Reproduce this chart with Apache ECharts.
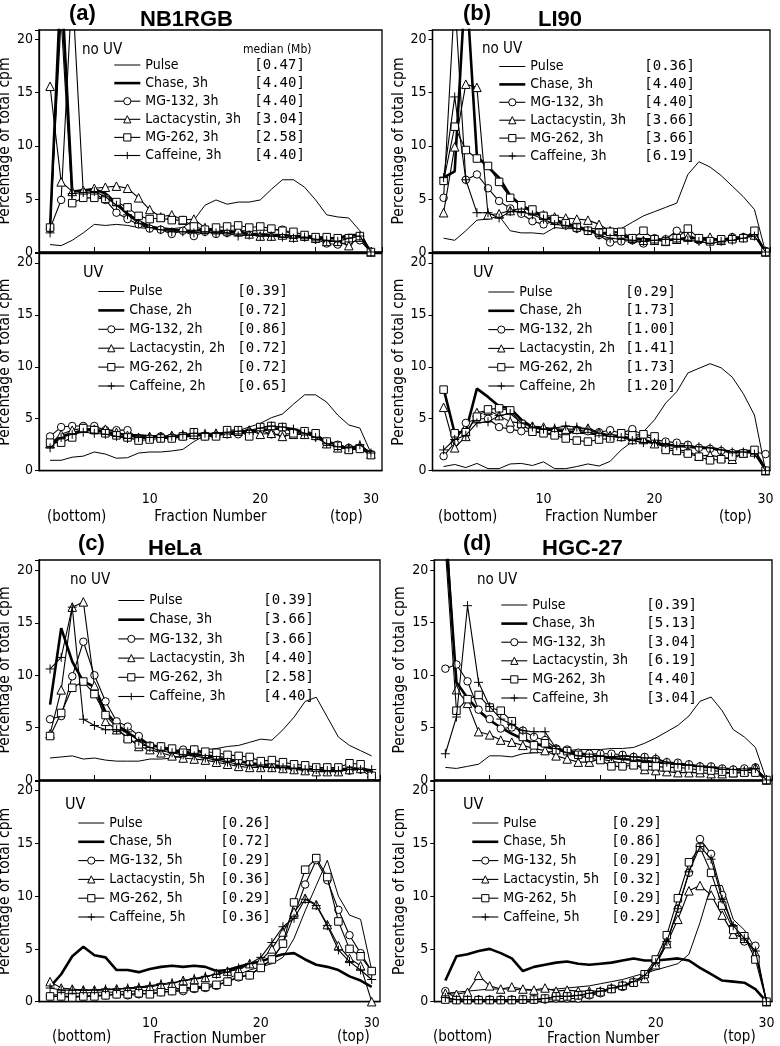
<!DOCTYPE html>
<html><head><meta charset="utf-8">
<script src="https://cdn.jsdelivr.net/npm/echarts@6/dist/echarts.min.js"></script>
<style>html,body{margin:0;padding:0;background:#fff}#c{width:780px;height:1046px}</style>
</head><body><div id="c"></div><script>
// ---------- DATA ----------
const fractions = [1,2,3,4,5,6,7,8,9,10,11,12,13,14,15,16,17,18,19,20,21,22,23,24,25,26,27,28,29,30];

const names3h = ['Pulse','Chase, 3h','MG-132, 3h','Lactacystin, 3h','MG-262, 3h','Caffeine, 3h'];
const names2h = ['Pulse','Chase, 2h','MG-132, 2h','Lactacystin, 2h','MG-262, 2h','Caffeine, 2h'];
const names5h = ['Pulse','Chase, 5h','MG-132, 5h','Lactacystin, 5h','MG-262, 5h','Caffeine, 5h'];

const aTopMedians = ['[0.47]','[4.40]','[4.40]','[3.04]','[2.58]','[4.40]'];
const aBotMedians = ['[0.39]','[0.72]','[0.86]','[0.72]','[0.72]','[0.65]'];
const bTopMedians = ['[0.36]','[4.40]','[4.40]','[3.66]','[3.66]','[6.19]'];
const bBotMedians = ['[0.29]','[1.73]','[1.00]','[1.41]','[1.73]','[1.20]'];
const cTopMedians = ['[0.39]','[3.66]','[3.66]','[4.40]','[2.58]','[4.40]'];
const cBotMedians = ['[0.26]','[0.72]','[0.29]','[0.36]','[0.29]','[0.36]'];
const dTopMedians = ['[0.39]','[5.13]','[3.04]','[6.19]','[4.40]','[3.04]'];
const dBotMedians = ['[0.29]','[0.86]','[0.29]','[0.32]','[0.29]','[0.29]'];

// (a) NB1RGB, no UV
const aTopPulse = [0.7,0.6,1.1,1.8,2.6,2.5,2.6,2.5,2.3,2.2,2.3,2.2,2.3,3.0,4.4,4.9,4.5,4.7,4.7,4.9,5.9,6.8,6.8,6.1,4.9,3.5,3.3,3.2,2.0,0];
const aTopChase = [2.3,26,5.7,5.8,5.9,5.5,4.6,3.6,2.9,2.4,2.2,2.1,2.0,2.0,2.1,2.0,1.9,1.8,1.7,1.7,1.6,1.6,1.5,1.5,1.4,1.3,1.3,1.6,1.6,0];
const aTopMG132 = [2.2,4.9,25,5.6,5.5,4.9,3.7,3.1,2.6,2.2,2.1,1.7,2.0,1.5,1.9,1.7,1.8,2.0,2.0,2.0,2.1,2.1,1.6,1.4,1.2,0.8,0.7,0.9,1.1,0];
const aTopLact  = [15.6,6.6,5.7,5.8,6.0,6.1,6.2,6.0,5.1,4.0,3.3,3.5,3.0,3.1,2.3,2.1,2.0,2.1,1.7,1.5,1.5,1.6,1.4,1.5,1.3,1.0,1.0,0.6,1.4,0];
const aTopMG262 = [2.3,22,4.6,5.1,5.1,5.0,4.7,4.2,3.4,3.1,3.2,3.0,3.0,2.4,2.1,2.3,2.4,2.5,2.3,2.4,2.2,2.0,1.9,1.6,1.4,1.4,1.3,1.3,1.5,0];
const aTopCaff  = [1.8,24,5.5,5.6,5.7,5.2,4.4,3.5,2.7,2.3,2.1,1.9,1.9,1.8,1.9,1.8,1.8,1.5,1.6,1.5,1.5,1.4,1.3,1.4,1.2,1.1,1.0,1.3,1.5,0];
// (a) NB1RGB, UV
const aBotPulse = [1.0,1.0,1.3,1.4,1.8,1.6,1.2,1.25,1.7,1.8,1.8,1.9,2.05,2.8,3.4,3.6,3.4,3.85,4.2,4.55,5.1,5.45,6.4,7.3,7.3,6.6,5.35,4.4,4.1,1.7];
const aBotChase = [2.5,3.3,3.6,3.9,3.9,3.7,3.6,3.4,3.4,3.3,3.3,3.2,3.3,3.4,3.5,3.5,3.6,3.7,3.8,3.9,4.0,4.1,4.0,3.7,3.4,2.8,2.5,2.1,2.3,1.7];
const aBotMG132 = [3.3,4.2,4.3,4.3,4.3,3.9,3.9,3.9,3.1,3.1,3.3,3.2,3.3,3.4,3.3,3.4,3.5,3.5,3.7,3.9,3.5,3.5,3.6,3.6,3.3,2.8,2.5,2.2,2.2,1.6];
const aBotLact  = [2.6,3.5,3.9,4.1,4.0,4.0,3.7,3.4,3.2,3.3,3.3,3.4,3.4,3.5,3.5,3.6,3.6,3.8,3.9,3.5,3.6,3.3,3.5,3.5,3.4,2.6,2.2,2.1,2.4,1.6];
const aBotMG262 = [2.7,2.7,3.2,4.1,3.9,3.6,3.4,3.2,2.9,3.0,3.1,3.1,3.3,3.7,3.3,3.3,3.9,3.9,3.3,4.2,4.3,4.2,3.6,3.8,3.6,2.8,2.4,2.0,2.1,1.5];
const aBotCaff  = [2.2,3.2,3.5,3.7,3.6,3.5,3.3,3.1,3.2,3.2,3.2,3.3,3.5,3.6,3.6,3.6,3.7,3.8,3.9,4.1,4.3,4.2,4.0,3.6,3.2,2.6,2.3,2.2,2.5,1.7];
// (b) LI90, no UV
const bTopPulse = [1.3,1.1,2.0,3.0,3.1,3.4,2.0,1.8,1.8,1.7,2.3,2.2,2.2,2.2,2.2,2.2,2.2,2.8,3.4,3.8,4.2,4.6,7.3,8.5,8.0,7.2,6.2,5.2,4.0,0];
const bTopChase = [7.0,7.6,26,9.0,8.0,7.0,5.3,4.4,3.8,3.3,3.0,2.7,2.4,2.1,1.8,1.7,1.5,1.3,1.2,1.2,1.1,1.2,1.3,1.3,1.2,1.2,1.2,1.4,1.7,0];
const bTopMG132 = [5.1,24,6.8,7.3,6.0,4.8,4.1,3.6,2.9,2.6,2.9,2.5,2.2,2.0,1.6,0.9,1.0,1.1,0.8,1.3,1.2,2.0,1.7,1.1,1.1,1.2,1.4,1.4,1.7,0.1];
const bTopLact  = [3.7,9.9,15.8,15.5,3.5,3.6,3.9,4.1,3.9,3.5,3.3,3.2,3.1,3.0,2.6,2.0,1.7,1.3,1.1,1.1,1.0,1.2,1.4,1.3,1.4,1.1,1.4,1.4,1.6,0];
const bTopMG262 = [6.7,11.8,9.6,8.8,8.1,6.6,5.1,4.4,4.0,3.4,3.1,2.7,2.3,2.0,1.8,1.9,1.9,1.3,2.0,1.2,1.0,1.3,2.2,1.3,1.0,1.2,1.2,1.3,2.0,0];
const bTopCaff  = [7.0,14.6,6.8,3.7,3.7,3.2,3.8,3.8,3.5,3.1,2.6,2.5,2.2,2.0,1.6,1.3,1.2,1.1,1.0,1.1,1.2,1.2,1.1,1.0,0.8,1.0,1.1,1.3,1.5,0];
// (b) LI90, UV
const bBotPulse = [0.4,0.6,0.3,0.7,0.2,0.2,0.65,0.7,0.5,0.85,0.2,0.2,0.4,0.65,0.45,0.9,2.0,2.8,3.75,4.9,6.5,7.6,9.4,9.85,10.3,9.9,9.0,7.4,5.35,0];
const bBotChase = [7.9,3.6,3.8,7.9,7.1,6.2,6.0,4.9,4.2,4.0,3.9,3.8,3.7,3.6,3.5,3.4,3.3,3.1,3.0,2.6,2.5,2.4,2.3,2.2,2.2,2.0,1.8,1.9,1.9,0.2];
const bBotMG132 = [1.4,2.7,4.6,5.0,5.0,4.2,4.0,3.8,3.8,3.7,3.5,3.4,3.9,3.8,3.7,3.9,3.6,4.0,3.4,3.0,2.8,2.7,2.5,2.2,2.1,1.9,1.7,1.7,1.8,1.6];
const bBotLact  = [6.1,2.2,3.3,5.6,5.8,5.3,4.7,4.6,4.3,4.2,4.0,4.0,4.0,4.1,3.7,3.4,3.3,3.0,3.0,2.6,2.3,2.0,1.9,1.4,1.5,1.3,1.1,1.7,1.8,0];
const bBotMG262 = [7.8,3.6,3.7,5.2,5.9,6.0,5.8,4.5,3.75,3.6,3.4,3.1,2.9,2.8,3.0,3.1,3.6,3.4,3.5,3.3,2.0,1.9,1.65,1.35,1.0,1.1,1.35,1.65,2.0,0];
const bBotCaff  = [2.0,3.0,3.4,4.6,4.7,5.3,5.5,4.6,4.2,4.0,4.1,4.3,4.2,4.0,3.6,3.3,3.2,2.9,2.7,2.7,2.6,2.4,2.4,2.3,2.2,2.0,1.8,1.8,1.6,0];
// (c) HeLa, no UV
const cTopPulse = [2.1,2.2,2.3,2.0,2.1,1.9,1.8,1.8,1.8,2.0,2.0,2.1,2.3,2.5,2.9,3.0,3.2,3.3,3.6,3.9,3.8,4.8,6.0,7.5,7.9,6.0,4.1,3.3,2.8,2.3];
const cTopChase = [7.2,14.5,11.3,9.4,8.9,6.5,5.3,4.5,3.9,3.4,3.1,2.8,2.6,2.5,2.3,2.1,1.9,1.8,1.6,1.5,1.4,1.3,1.2,1.1,1.0,1.0,1.0,1.1,1.1,0.9];
const cTopMG132 = [5.8,6.1,9.9,13.2,10.0,7.5,5.6,5.1,4.2,3.3,3.2,2.8,2.9,2.9,2.4,2.3,2.1,1.8,1.6,1.4,1.3,1.2,1.1,1.0,1.0,0.9,0.9,0.9,1.0,0.3];
const cTopLact  = [4.4,8.6,16.5,17.0,9.0,5.6,4.8,4.1,3.2,2.9,2.6,2.3,2.1,2.0,1.9,1.7,1.5,1.3,1.2,1.2,1.2,1.1,1.0,0.9,0.8,0.8,0.8,1.0,1.1,0.6];
const cTopMG262 = [4.2,6.4,8.8,9.4,8.2,6.2,5.0,3.9,3.4,3.2,3.2,3.0,2.6,2.9,2.7,2.6,2.4,2.3,2.2,1.8,1.9,1.7,1.5,1.4,1.2,1.2,1.2,1.6,1.5,0.4];
const cTopCaff  = [10.6,11.7,16.5,5.8,5.2,4.8,4.8,4.6,3.7,3.1,2.8,2.6,2.4,2.3,2.1,1.9,1.7,1.5,1.4,1.3,1.2,1.2,1.1,1.0,1.0,0.9,0.9,1.0,1.0,1.0];
// (c) HeLa, UV
const cBotPulse = [0.6,0.7,0.8,0.8,0.9,0.9,0.9,1.0,1.0,1.1,1.1,1.2,1.3,1.4,1.5,1.8,2.2,2.6,3.0,3.3,3.6,4.2,6.0,8.6,11.0,13.4,10.0,8.2,7.8,3.0];
const cBotChase = [1.4,2.6,4.3,5.2,4.4,4.2,3.0,3.0,2.8,3.1,3.3,3.4,3.3,3.4,3.3,2.9,3.0,3.3,3.6,3.8,4.2,4.5,4.6,4.0,3.5,3.3,3.0,2.4,2.0,1.4];
const cBotMG132 = [0.5,0.5,0.5,0.5,0.6,0.6,0.7,0.6,0.7,0.8,0.9,1.0,1.0,1.2,1.3,1.5,1.9,2.3,2.5,3.3,4.0,5.5,8.2,11.1,13.4,11.5,8.7,6.3,4.6,2.9];
const cBotLact  = [1.9,1.3,1.2,1.1,1.1,1.1,1.2,1.2,1.3,1.4,1.6,1.7,2.0,2.1,2.3,2.7,2.9,3.0,3.6,3.9,5.0,6.6,8.5,9.8,9.2,7.3,5.3,4.1,3.4,0];
const cBotMG262 = [0.5,0.5,0.4,0.5,0.5,0.6,0.7,0.7,0.8,0.7,0.9,1.0,1.2,1.3,1.4,1.6,1.9,2.4,2.5,3.2,4.0,5.5,9.4,12.5,13.6,11.8,7.6,5.0,4.3,2.9];
const cBotCaff  = [1.3,1.1,1.1,1.1,1.1,1.2,1.2,1.3,1.4,1.5,1.7,1.8,2.0,2.2,2.4,2.6,2.8,3.2,3.6,4.2,5.6,7.1,7.9,9.7,9.1,7.2,4.9,3.8,3.0,2.1];
// (d) HGC-27, no UV
const dTopPulse = [1.2,1.1,1.3,1.5,2.3,2.3,2.2,2.5,2.6,2.6,2.8,2.8,2.9,2.9,2.9,3.0,3.0,3.1,3.5,4.0,4.6,5.2,6.1,7.5,7.9,6.6,4.8,4.1,3.1,0];
const dTopChase = [24,9.3,7.8,6.6,5.7,5.0,4.4,3.9,3.5,3.2,2.9,2.7,2.5,2.4,2.2,2.1,2.0,1.9,1.8,1.7,1.6,1.5,1.4,1.3,1.2,1.1,1.0,1.0,1.0,0];
const dTopMG132 = [10.6,11.0,9.4,6.7,5.8,4.9,5.0,4.7,4.1,3.8,3.0,2.9,2.6,2.5,2.5,2.5,2.4,2.2,2.2,2.0,1.7,1.65,1.5,1.3,1.3,1.1,1.0,1.1,1.2,0];
const dTopLact  = [26,8.6,7.3,4.6,4.3,3.8,3.6,3.3,3.0,2.8,2.3,2.0,1.7,1.7,2.0,1.8,1.6,1.5,1.0,0.9,0.8,0.7,0.7,0.7,0.6,0.6,0.7,0.8,1.2,0];
const dTopMG262 = [22,6.6,7.7,8.1,6.9,6.6,5.6,4.1,3.3,3.5,2.85,2.75,2.4,2.1,1.9,1.3,1.3,1.4,1.3,1.3,1.2,1.2,1.1,0.95,0.9,0.8,0.65,0.7,0.7,0];
const dTopCaff  = [2.5,6.0,16.6,9.3,7.0,5.8,5.3,4.7,4.6,4.6,3.0,2.6,2.3,2.2,2.3,2.2,2.3,2.2,2.1,2.1,1.7,1.5,1.4,1.3,1.2,1.0,1.0,0.9,1.1,0];
// (d) HGC-27, UV
const dBotPulse = [0.8,0.9,1.0,1.1,1.2,1.2,1.2,1.1,1.1,1.1,1.2,1.3,1.4,1.5,1.7,1.9,2.1,2.4,2.7,3.0,3.3,3.6,4.5,7.5,11.0,11.0,7.8,6.8,5.0,0];
const dBotChase = [2.0,4.3,4.5,4.8,5.0,4.6,4.1,2.9,3.3,3.5,3.7,3.8,3.6,3.5,3.6,3.7,3.9,4.1,3.9,3.9,4.0,4.1,3.9,3.2,2.6,2.0,1.9,1.8,1.2,0];
const dBotMG132 = [1.0,0.3,0.2,0.2,0.2,0.2,0.2,0.2,0.2,0.2,0.3,0.3,0.3,0.6,0.8,1.2,1.4,1.8,2.5,3.5,5.5,8.8,12.2,15.4,14.0,10.1,7.0,5.7,5.3,0];
const dBotLact  = [0.8,0.7,0.9,2.5,1.5,1.2,1.4,1.2,1.1,1.3,1.0,1.1,1.0,1.0,1.0,1.3,1.6,1.9,2.2,3.5,5.5,7.8,10.5,11.0,10.1,8.2,6.4,6.0,4.6,0];
const dBotMG262 = [0.2,0.15,0.15,0.15,0.15,0.15,0.15,0.2,0.2,0.3,0.5,0.5,0.6,0.7,0.9,1.2,1.5,1.8,2.6,4.0,6.3,9.8,13.2,14.6,12.2,9.1,6.8,6.2,4.0,0];
const dBotCaff  = [0.4,0.2,0.2,0.2,0.2,0.2,0.2,0.2,0.2,0.3,0.5,0.5,0.6,0.8,1.0,1.3,1.5,1.9,2.5,3.7,5.7,8.8,12.3,14.7,13.5,9.7,7.2,6.0,4.8,0];

// ---------- LAYOUT / STYLE ----------
const COND = '"DejaVu Sans Condensed","DejaVu Sans",sans-serif';
const MONO = '"DejaVu Sans Mono",monospace';
const BOLD = '"Liberation Sans",Arial,sans-serif';

const panels = [
  {names:names3h, med:aTopMedians, s:[aTopPulse,aTopChase,aTopMG132,aTopLact,aTopMG262,aTopCaff],
   g:{left:39,top:30,width:343,height:222}, xMax:31, yMax:20.9, low:false, yGap:21.5,
   lg:{left:113,top:57.5,gap:3.1,w:109}},
  {names:names2h, med:aBotMedians, s:[aBotPulse,aBotChase,aBotMG132,aBotLact,aBotMG262,aBotCaff],
   g:{left:39,top:253.5,width:343,height:217.2}, xMax:31, yMax:20.9, low:true, yGap:21.5, lm:22, ng:38.5,
   lg:{left:97,top:284,gap:3.9,w:108}},
  {names:names3h, med:bTopMedians, s:[bTopPulse,bTopChase,bTopMG132,bTopLact,bTopMG262,bTopCaff],
   g:{left:432.5,top:30,width:337.5,height:222}, xMax:30.4, yMax:20.9, low:false, yGap:24,
   lg:{left:498,top:59,gap:2.9,w:114}},
  {names:names2h, med:bBotMedians, s:[bBotPulse,bBotChase,bBotMG132,bBotLact,bBotMG262,bBotCaff],
   g:{left:432.5,top:253.5,width:337.5,height:217.2}, xMax:30.4, yMax:20.9, low:true, yGap:24, lm:22, ng:38.5,
   lg:{left:487,top:284.5,gap:3.8,w:106}},
  {names:names3h, med:cTopMedians, s:[cTopPulse,cTopChase,cTopMG132,cTopLact,cTopMG262,cTopCaff],
   g:{left:39,top:560,width:341,height:220}, xMax:30.75, yMax:21.0, low:false, yGap:21.5,
   lg:{left:117,top:593,gap:4.2,w:114}},
  {names:names5h, med:cBotMedians, s:[cBotPulse,cBotChase,cBotMG132,cBotLact,cBotMG262,cBotCaff],
   g:{left:39,top:781,width:341,height:220.7}, xMax:30.75, yMax:20.9, low:true, yGap:21.5, lm:15, ng:27.5,
   lg:{left:77,top:815.5,gap:3.8,w:111}},
  {names:names3h, med:dTopMedians, s:[dTopPulse,dTopChase,dTopMG132,dTopLact,dTopMG262,dTopCaff],
   g:{left:434.3,top:560,width:337.7,height:220}, xMax:30.5, yMax:20.95, low:false, yGap:24,
   lg:{left:500,top:597.5,gap:3.6,w:114}},
  {names:names5h, med:dBotMedians, s:[dBotPulse,dBotChase,dBotMG132,dBotLact,dBotMG262,dBotCaff],
   g:{left:434.3,top:781,width:337.7,height:220.7}, xMax:30.5, yMax:20.9, low:true, yGap:24, lm:15, ng:27.5,
   lg:{left:471,top:815.5,gap:3.8,w:108}}
];

const PLUS = 'path://M5 0L5 10M0 5L10 5';
const CLEAR = 'rgba(0,0,0,0)';
const sStyle = [
  {symbol:'none', size:0, lw:1},
  {symbol:'none', size:0, lw:2.6},
  {symbol:'circle', size:7.5, lw:1.1},
  {symbol:'triangle', size:8.5, lw:1.1},
  {symbol:'rect', size:7.5, lw:1.1},
  {symbol:PLUS, size:9, lw:1.1}
];
function itemSt(st){ return st.symbol==='none'
  ? {color:CLEAR, borderColor:CLEAR, borderWidth:0}
  : {color:'#fff', borderColor:'#000', borderWidth:1}; }

const grids=[], xAxes=[], yAxes=[], series=[], legends=[];
panels.forEach((p,i)=>{
  grids.push(Object.assign({show:true, borderColor:'#000', borderWidth:1.3, backgroundColor:'transparent',
    containLabel:false, outerBoundsMode:'none'}, p.g));
  xAxes.push({type:'value', gridIndex:i, min:0, max:p.xMax, interval:5,
    axisLine:{show:true, onZero:false, lineStyle:{color:'#000', width:1.3}},
    axisTick:{show:!p.low, inside:true, length:5, lineStyle:{color:'#000', width:1}},
    axisLabel:{show:p.low, margin:p.lm||8, color:'#000', fontSize:14, fontFamily:COND,
      formatter:v=>(v>0 && v%10===0)?String(v):''},
    splitLine:{show:false},
    name:p.low?'Fraction Number':'', nameLocation:'middle', nameGap:p.ng||30,
    nameTextStyle:{color:'#000', fontSize:15, fontFamily:COND}});
  yAxes.push({type:'value', gridIndex:i, min:0, max:p.yMax, interval:5,
    axisLine:{show:true, lineStyle:{color:'#000', width:1.3}},
    axisTick:{show:true, inside:false, length:4, lineStyle:{color:'#000', width:1}},
    axisLabel:{margin:6, color:'#000', fontSize:14, fontFamily:COND,
      formatter:v=>(v%5===0)?String(v):''},
    splitLine:{show:false},
    name:'Percentage of total cpm', nameLocation:'middle', nameRotate:90, nameGap:p.yGap,
    nameTextStyle:{color:'#000', fontSize:15.5, fontFamily:COND}});
  p.s.forEach((vals,k)=>{
    const st=sStyle[k];
    series.push({type:'line', name:p.names[k], xAxisIndex:i, yAxisIndex:i,
      data:fractions.map((f,j)=>[f, vals[j]]),
      symbol:st.symbol, symbolSize:st.size, showSymbol:st.symbol!=='none',
      clip:true, silent:true, animation:false, z:2+k,
      lineStyle:{color:'#000', width:st.lw},
      itemStyle:itemSt(st),
      emphasis:{disabled:true}});
  });
  const med=p.med, nm=p.names;
  legends.push({show:true, orient:'vertical', left:p.lg.left, top:p.lg.top, itemGap:p.lg.gap,
    itemWidth:26, itemHeight:9, padding:0, selectedMode:false,
    data:nm.map((n,k)=>({name:n,
      lineStyle:{color:'#000', width:sStyle[k].lw, type:'solid', opacity:1},
      itemStyle:itemSt(sStyle[k])})),
    formatter:name=>'{n|'+name+'}{v|'+med[nm.indexOf(name)]+'}',
    textStyle:{color:'#000', fontSize:14, fontFamily:COND, lineHeight:15,
      rich:{n:{width:p.lg.w, fontSize:14, fontFamily:COND, color:'#000', lineHeight:15},
            v:{fontSize:14, fontFamily:MONO, color:'#000', lineHeight:15}}}});
});

function txt(x,y,t,font,align){return {type:'text', x:x, y:y, silent:true,
  style:{text:t, font:font, fill:'#000', textAlign:align||'left', textVerticalAlign:'middle'}};}
const TF='bold 22px '+BOLD, LF='15px '+COND;
const graphics=[
  txt(69,13.5,'(a)',TF), txt(140,20.3,'NB1RGB',TF),
  txt(463,13.5,'(b)',TF), txt(538,20.3,'LI90',TF),
  txt(78,543.5,'(c)',TF), txt(148,549.3,'HeLa',TF),
  txt(463,543.5,'(d)',TF), txt(542,549.3,'HGC-27',TF),
  txt(82,50,'no UV',LF), txt(243,50,'median (Mb)','12px '+COND),
  txt(83,273,'UV','16px '+COND),
  txt(482,49,'no UV',LF), txt(473,273,'UV','16px '+COND),
  txt(70,580,'no UV',LF), txt(65,805,'UV','16px '+COND),
  txt(477,580,'no UV',LF), txt(463,805,'UV','16px '+COND),
  txt(47,517,'(bottom)',LF), txt(330,517,'(top)',LF),
  txt(438,517,'(bottom)',LF), txt(719,517,'(top)',LF),
  txt(52,1037,'(bottom)',LF), txt(337,1037,'(top)',LF),
  txt(433,1037,'(bottom)',LF), txt(723,1037,'(top)',LF)
];

const chart = echarts.init(document.getElementById('c'), null, {renderer:'canvas'});
chart.setOption({backgroundColor:'#fff', animation:false,
  grid:grids, xAxis:xAxes, yAxis:yAxes, series:series, legend:legends, graphic:graphics});
</script></body></html>
